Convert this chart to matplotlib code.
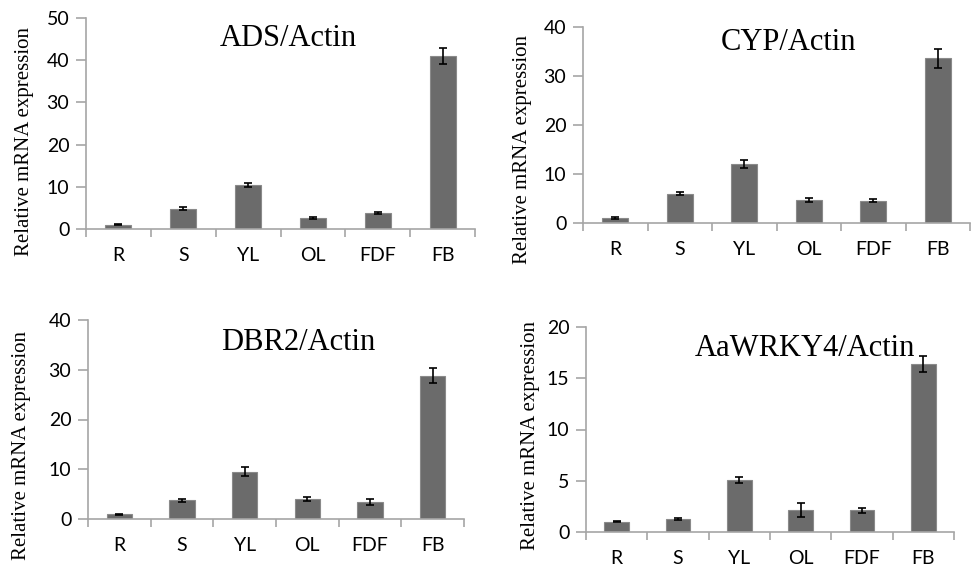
import numpy as np
import matplotlib
matplotlib.use("Agg")
import matplotlib.pyplot as plt
from matplotlib.ticker import FixedLocator

W, H = 976, 570

# Data
tissues = ["R", "S", "YL", "OL", "FDF", "FB"]

ads_mean = [1.0, 4.8, 10.4, 2.6, 3.8, 40.9]
ads_err = [0.15, 0.3, 0.5, 0.3, 0.3, 1.9]

cyp_mean = [1.0, 6.0, 12.1, 4.7, 4.5, 33.6]
cyp_err = [0.15, 0.35, 0.8, 0.5, 0.3, 2.0]

dbr2_mean = [1.0, 3.8, 9.5, 4.1, 3.4, 28.8]
dbr2_err = [0.1, 0.3, 0.9, 0.4, 0.6, 1.5]

wrky_mean = [1.0, 1.25, 5.1, 2.15, 2.1, 16.4]
wrky_err = [0.05, 0.07, 0.3, 0.7, 0.2, 0.8]

titles = ["ADS/Actin", "CYP/Actin", "DBR2/Actin", "AaWRKY4/Actin"]
ymaxes = [50, 40, 40, 20]
ysteps = [10, 10, 10, 5]

# panel boxes in pixels: left, right, top, bottom(y=0)
boxes = [(86, 475, 18, 229), (583, 970, 27, 223),
         (88, 464, 320, 519), (586, 954, 327, 532)]
title_pos = [(288, 38), (788, 43), (298, 342), (805, 348)]
ylabel_pos = [(25, 142), (523, 150), (22, 445), (530, 435)]

BAR = "#6b6b6b"
AXC = "#a6a6a6"
TICKFONT = "Lato"
SERIF = "Liberation Serif"

fig = plt.figure(figsize=(W / 100, H / 100), dpi=100)

data = [(ads_mean, ads_err), (cyp_mean, cyp_err),
        (dbr2_mean, dbr2_err), (wrky_mean, wrky_err)]

for i, (mean, err) in enumerate(data):
    l, r, t, b = boxes[i]
    ax = fig.add_axes([l / W, 1 - b / H, (r - l) / W, (b - t) / H])
    x = np.arange(len(tissues))
    ax.bar(x, mean, width=0.4, color=BAR, edgecolor="#8a8a8a", linewidth=0.8,
           zorder=2)
    ax.errorbar(x, mean, yerr=err, fmt="none", ecolor="black", elinewidth=1.2,
                capsize=3, capthick=1.2, zorder=3)
    ax.set_xlim(-0.5, len(tissues) - 0.5)
    ax.set_ylim(0, ymaxes[i])
    ax.set_yticks(np.arange(0, ymaxes[i] + 0.1, ysteps[i]))
    ax.set_xticks(x)
    ax.set_xticklabels(tissues)
    ax.xaxis.set_minor_locator(FixedLocator(np.arange(-0.5, len(tissues), 1.0)))
    ax.tick_params(axis="x", which="major", length=0, pad=13)
    ax.tick_params(axis="x", which="minor", length=6, width=1.2, color=AXC,
                   direction="out")
    ax.tick_params(axis="y", length=7, width=1.2, color=AXC, direction="out",
                   pad=5)
    for lab in ax.get_xticklabels() + ax.get_yticklabels():
        lab.set_fontfamily(TICKFONT)
        lab.set_fontsize(14)
    for s in ["top", "right"]:
        ax.spines[s].set_visible(False)
    for s in ["left", "bottom"]:
        ax.spines[s].set_color(AXC)
        ax.spines[s].set_linewidth(1.2)
    ax.patch.set_visible(False)

    tx, ty = title_pos[i]
    fig.text(tx / W, 1 - ty / H, titles[i], family=SERIF, fontsize=22,
             ha="center", va="center")
    lx, ly = ylabel_pos[i]
    fig.text(lx / W, 1 - ly / H, "Relative mRNA expression", family=SERIF,
             fontsize=15, rotation=90, ha="center", va="center")

fig.savefig("out.png", dpi=100)
